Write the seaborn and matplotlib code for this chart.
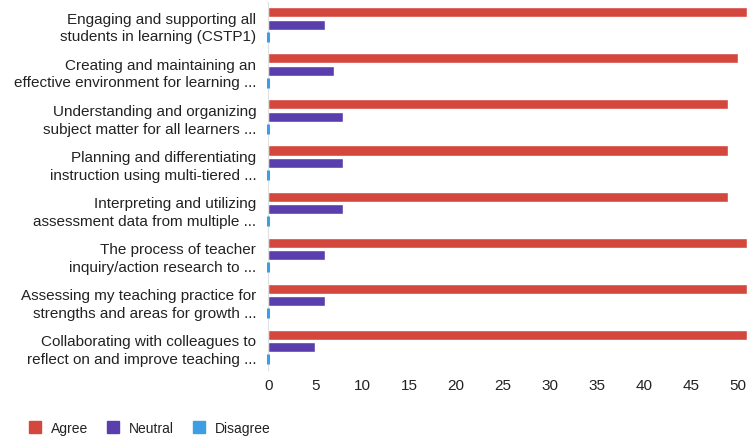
import matplotlib
matplotlib.use("Agg")
import matplotlib.pyplot as plt
from matplotlib.lines import Line2D
import pandas as pd
import seaborn as sns

categories = [
    "Engaging and supporting all\nstudents in learning (CSTP1)",
    "Creating and maintaining an\neffective environment for learning ...",
    "Understanding and organizing\nsubject matter for all learners ...",
    "Planning and differentiating\ninstruction using multi-tiered ...",
    "Interpreting and utilizing\nassessment data from multiple ...",
    "The process of teacher\ninquiry/action research to ...",
    "Assessing my teaching practice for\nstrengths and areas for growth ...",
    "Collaborating with colleagues to\nreflect on and improve teaching ...",
]
agree = [51, 50, 49, 49, 49, 51, 51, 51]
neutral = [6, 7, 8, 8, 8, 6, 6, 5]
disagree = [0, 0, 0, 0, 0, 0, 0, 0]
series = ["Agree", "Neutral", "Disagree"]
colors = ["#d4473d", "#5a3eae", "#3d9ee3"]
x_ticks = [0, 5, 10, 15, 20, 25, 30, 35, 40, 45, 50]

rows = []
for cat, a, n, d in zip(categories, agree, neutral, disagree):
    rows.append((cat, "Agree", a))
    rows.append((cat, "Neutral", n))
    rows.append((cat, "Disagree", d))
df = pd.DataFrame(rows, columns=["item", "response", "count"])

sns.set_style("white")
plt.rcParams["font.family"] = ["Liberation Sans", "DejaVu Sans"]

fig = plt.figure(figsize=(7.47, 4.39), dpi=100)
ax = fig.add_axes([0.359, 0.155, 0.641, 0.839])

sns.barplot(
    data=df, x="count", y="item", hue="response", hue_order=series,
    palette=colors, saturation=1, orient="h", width=0.8, gap=0.18, ax=ax,
    legend=False,
)
ax.spines["left"].set_color("#e0e0e0")
ax.spines["left"].set_zorder(1)
# zero-value bars still show as a thin sliver
for patch in ax.containers[2]:
    patch.set_edgecolor(colors[2])
    patch.set_linewidth(2.2)
    patch.set_clip_on(False)
    patch.set_zorder(3)

ax.set_xlim(0, 51)
ax.set_xticks(x_ticks)
ax.set_xlabel("")
ax.set_ylabel("")
ax.tick_params(axis="x", labelsize=11, colors="#222222", length=0, pad=6)
ax.tick_params(axis="y", labelsize=11, colors="#222222", length=0, pad=8.5)
for lab in ax.get_yticklabels():
    lab.set_linespacing(1.3)
for side in ["top", "right", "bottom"]:
    ax.spines[side].set_visible(False)

handles = [
    Line2D([], [], marker="s", linestyle="", markersize=8.5, color=c, label=s)
    for s, c in zip(series, colors)
]
fig.legend(
    handles=handles, loc="center left", bbox_to_anchor=(0.0375, 0.0228), ncol=3,
    frameon=False, fontsize=10, handlelength=1.0, handletextpad=0.65,
    columnspacing=1.3, borderpad=0, borderaxespad=0, labelcolor="#222222",
)

fig.savefig("out.png", dpi=100)
